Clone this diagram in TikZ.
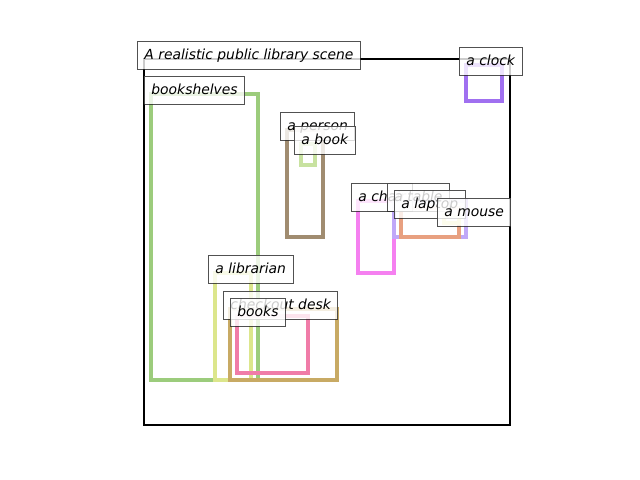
\documentclass[tikz,border=0pt]{standalone}
\usepackage{fontspec}
\setmainfont{DejaVu Sans}
\usepackage{tikz}
\usetikzlibrary{positioning}
\definecolor{c-shelves}{HTML}{9CCC7C}
\definecolor{c-person}{HTML}{A08C70}
\definecolor{c-book}{HTML}{C8E2A0}
\definecolor{c-clock}{HTML}{A070F0}
\definecolor{c-chair}{HTML}{F580F0}
\definecolor{c-table}{HTML}{C0A8F8}
\definecolor{c-laptop}{HTML}{E8A080}
\definecolor{c-mouse}{HTML}{F2F0A0}
\definecolor{c-librarian}{HTML}{DCE68C}
\definecolor{c-desk}{HTML}{C8AA64}
\definecolor{c-books}{HTML}{F07CA8}
\tikzstyle{region} = [line width=2.3pt]
\tikzstyle{tag}    = [draw=black!85,
                      fill=white,
                      opacity=0.8,
                      text opacity=1,
                      line width=0.6pt,
                      anchor=base west,
                      xshift=-5pt,
                      inner xsep=5pt,
                      inner ysep=5pt,
                      text height=7.9pt,
                      text depth=2.2pt,
                      font=\itshape\fontsize{10}{12}\selectfont]

\begin{document}
\begin{tikzpicture}[%
  x=0.72pt,
  y=-0.72pt
  ]
  \useasboundingbox (0,0) rectangle (640,480);

  % Regions:
  \draw[line width=1.7pt, black] (144,59) rectangle (510,425);
  \draw[region, c-shelves] (151,94) rectangle (258,380);
  \draw[region, c-person] (287,130) rectangle (323,237);
  \draw[region, c-book] (301,144) rectangle (315,165);
  \draw[region, c-clock] (466,65) rectangle (502,101);
  \draw[region, c-chair] (358,201) rectangle (394,273);
  \draw[region, c-table] (394,201) rectangle (466,237);
  \draw[region, c-laptop] (401,208) rectangle (459,237);
  \draw[region, c-mouse] (444,216) rectangle (459,223);
  \draw[region, c-librarian] (215,273) rectangle (251,380);
  \draw[region, c-desk] (230,309) rectangle (337,380);
  \draw[region, c-books] (237,316) rectangle (308,373);

  % Labels:
  \node (t-scene) [tag] at (144,59) {A realistic public library scene};
  \node (t-shelves) [tag] at (151,94) {bookshelves};
  \node (t-person) [tag] at (287,130) {a person};
  \node (t-book) [tag] at (301,144) {a book};
  \node (t-clock) [tag] at (466,65) {a clock};
  \node (t-chair) [tag] at (358,201) {a chair};
  \node (t-table) [tag] at (394,201) {a table};
  \node (t-laptop) [tag] at (401,208) {a laptop};
  \node (t-mouse) [tag] at (444,216) {a mouse};
  \node (t-librarian) [tag] at (215,273) {a librarian};
  \node (t-desk) [tag] at (230,309) {checkout desk};
  \node (t-books) [tag] at (237,316) {books};
\end{tikzpicture}
\end{document}
